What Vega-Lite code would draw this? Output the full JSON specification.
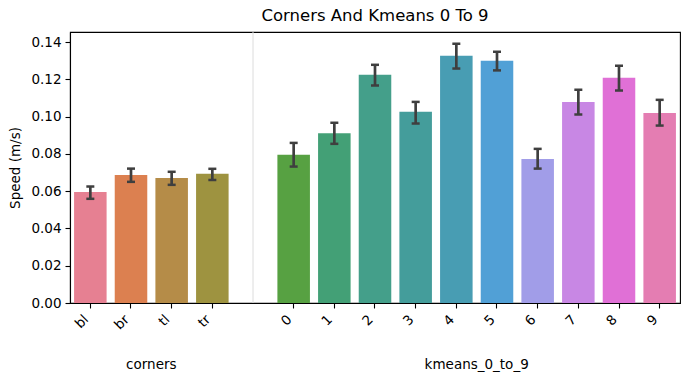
{
  "$schema": "https://vega.github.io/schema/vega-lite/v6.json",
  "width": 610,
  "height": 271,
  "autosize": "none",
  "padding": {"left": 70, "top": 32, "right": 10, "bottom": 79},
  "title": {"text": "Corners And Kmeans 0 To 9", "font": "DejaVu Sans", "fontSize": 16.5, "fontWeight": "normal", "color": "black", "offset": 7},
  "config": {
    "font": "DejaVu Sans",
    "view": {"stroke": "black", "strokeWidth": 1.1},
    "axis": {
      "labelFont": "DejaVu Sans", "labelFontSize": 13.5, "labelColor": "black",
      "titleFont": "DejaVu Sans", "titleFontSize": 13.5, "titleFontWeight": "normal", "titleColor": "black",
      "tickColor": "black", "domainColor": "black", "tickSize": 5, "tickWidth": 1.1, "domainWidth": 1.1, "grid": false,
      "labelOverlap": false
    }
  },
  "datasets": {
    "bars": [
      {"cat": "bl", "group": "corners", "mean": 0.0596, "lo": 0.0559, "hi": 0.0625},
      {"cat": "br", "group": "corners", "mean": 0.0687, "lo": 0.0650, "hi": 0.0721},
      {"cat": "tl", "group": "corners", "mean": 0.0670, "lo": 0.0634, "hi": 0.0704},
      {"cat": "tr", "group": "corners", "mean": 0.0693, "lo": 0.0660, "hi": 0.0720},
      {"cat": "0", "group": "kmeans_0_to_9", "mean": 0.0795, "lo": 0.0732, "hi": 0.0859},
      {"cat": "1", "group": "kmeans_0_to_9", "mean": 0.0911, "lo": 0.0854, "hi": 0.0967},
      {"cat": "2", "group": "kmeans_0_to_9", "mean": 0.1224, "lo": 0.1167, "hi": 0.1278},
      {"cat": "3", "group": "kmeans_0_to_9", "mean": 0.1026, "lo": 0.0963, "hi": 0.1079},
      {"cat": "4", "group": "kmeans_0_to_9", "mean": 0.1327, "lo": 0.1258, "hi": 0.1391},
      {"cat": "5", "group": "kmeans_0_to_9", "mean": 0.1300, "lo": 0.1248, "hi": 0.1348},
      {"cat": "6", "group": "kmeans_0_to_9", "mean": 0.0773, "lo": 0.0721, "hi": 0.0827},
      {"cat": "7", "group": "kmeans_0_to_9", "mean": 0.1079, "lo": 0.1011, "hi": 0.1144},
      {"cat": "8", "group": "kmeans_0_to_9", "mean": 0.1208, "lo": 0.1140, "hi": 0.1273},
      {"cat": "9", "group": "kmeans_0_to_9", "mean": 0.1019, "lo": 0.0952, "hi": 0.1090}
    ],
    "separator": [{"cat": "sep"}],
    "groups": [
      {"cat": "br", "label": "corners"},
      {"cat": "4", "label": "kmeans_0_to_9"}
    ]
  },
  "layer": [
    {
      "data": {"name": "separator"},
      "mark": {"type": "rule", "color": "#dcdcdc", "strokeWidth": 1},
      "encoding": {
        "x": {
          "field": "cat", "type": "nominal",
          "scale": {"domain": ["bl", "br", "tl", "tr", "sep", "0", "1", "2", "3", "4", "5", "6", "7", "8", "9"], "paddingInner": 0.2, "paddingOuter": 0.1},
          "axis": {"values": ["bl", "br", "tl", "tr", "0", "1", "2", "3", "4", "5", "6", "7", "8", "9"], "labelAngle": -45, "labelAlign": "right", "labelBaseline": "middle", "labelPadding": 9, "labelOffset": -4, "title": null}
        }
      }
    },
    {
      "data": {"name": "bars"},
      "mark": {"type": "bar"},
      "encoding": {
        "x": {"field": "cat", "type": "nominal"},
        "y": {"field": "mean", "type": "quantitative",
          "scale": {"domain": [0, 0.1454], "nice": false, "zero": true},
          "axis": {"title": "Speed (m/s)", "values": [0, 0.02, 0.04, 0.06, 0.08, 0.1, 0.12, 0.14], "tickCount": 8, "labelOverlap": false, "format": ".2f", "labelPadding": 4, "titlePadding": 8}},
        "color": {"field": "cat", "type": "nominal", "legend": null,
          "scale": {"domain": ["bl", "br", "tl", "tr", "0", "1", "2", "3", "4", "5", "6", "7", "8", "9"],
            "range": ["#e68092", "#dc8050", "#b58c48", "#9e9340", "#57a142", "#43a076", "#449f8a", "#449d9b", "#489db3", "#51a0d6", "#a19de8", "#c887e4", "#e070d6", "#e47db2"]}}
      }
    },
    {
      "data": {"name": "bars"},
      "mark": {"type": "rule", "color": "#3f3f3f", "strokeWidth": 2.7},
      "encoding": {
        "x": {"field": "cat", "type": "nominal"},
        "y": {"field": "lo", "type": "quantitative"},
        "y2": {"field": "hi"}
      }
    },
    {
      "data": {"name": "bars"},
      "mark": {"type": "tick", "color": "#3f3f3f", "size": 8, "thickness": 2.5, "orient": "horizontal", "opacity": 1},
      "encoding": {
        "x": {"field": "cat", "type": "nominal"},
        "y": {"field": "lo", "type": "quantitative"}
      }
    },
    {
      "data": {"name": "bars"},
      "mark": {"type": "tick", "color": "#3f3f3f", "size": 8, "thickness": 2.5, "orient": "horizontal", "opacity": 1},
      "encoding": {
        "x": {"field": "cat", "type": "nominal"},
        "y": {"field": "hi", "type": "quantitative"}
      }
    },
    {
      "data": {"name": "groups"},
      "mark": {"type": "text", "font": "DejaVu Sans", "fontSize": 13.5, "color": "black", "align": "center", "baseline": "middle"},
      "encoding": {
        "x": {"field": "cat", "type": "nominal", "bandPosition": 1.125},
        "y": {"value": 333},
        "text": {"field": "label"}
      }
    }
  ]
}
